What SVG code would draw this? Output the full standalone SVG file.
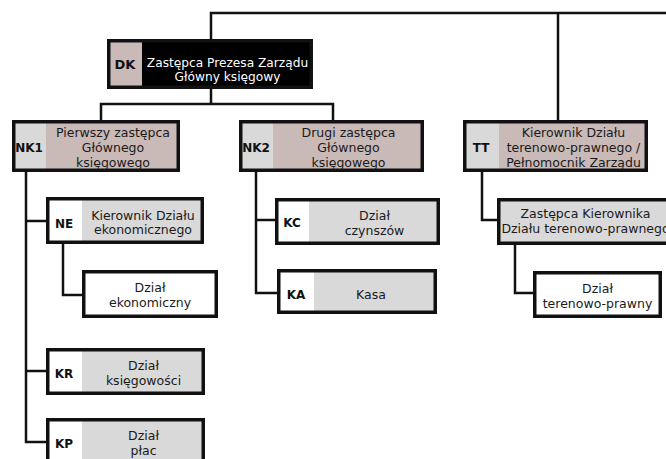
<svg xmlns="http://www.w3.org/2000/svg" width="666" height="459" viewBox="0 0 666 459">
<style>
.frame{fill:none;stroke:#111;stroke-width:3.5}
.pink{fill:#c9b9b7}
.gray{fill:#d9d9d9}
.white{fill:#fff}
.blk{fill:#000}
.t{font-family:"DejaVu Sans",Verdana,sans-serif;font-size:12.5px;fill:#1a1a1a;text-anchor:middle}
.tw{fill:#fff;font-size:12.2px}
.c{font-family:"DejaVu Sans",Verdana,sans-serif;font-size:12px;font-weight:bold;fill:#111;text-anchor:middle}
.conn path{fill:none;stroke:#111;stroke-width:2.5}
</style>
<rect width="666" height="459" fill="#fff"/>
<g class="conn">
<path d="M211,39 V13 H668"/>
<path d="M558,13 V120"/>
<path d="M211,89 V104"/>
<path d="M101,120 V104 H333 V121"/>
<path d="M26,172 V442 H46"/>
<path d="M26,221 H46"/>
<path d="M26,371 H46"/>
<path d="M63,244 V295 H82"/>
<path d="M256,172 V293 H277"/>
<path d="M256,220 H275"/>
<path d="M482,172 V220 H497"/>
<path d="M515,245 V293 H533"/>
</g>
<g id="DK">
<rect class="blk" x="107" y="39" width="206" height="50"/>
<rect class="pink" x="108.75" y="40.75" width="33.25" height="46.5"/>
<rect class="frame" x="108.75" y="40.75" width="202.5" height="46.5"/>
<text class="c" x="125" y="69" style="font-size:13px">DK</text>
<text class="t tw" x="227.5" y="67">Zastępca Prezesa Zarządu</text>
<text class="t tw" x="227.5" y="80.5">Główny księgowy</text>
</g>
<g id="NK1">
<rect class="pink" x="12" y="120" width="168" height="52"/>
<rect class="gray" x="12" y="120" width="34" height="52"/>
<rect class="frame" x="13.75" y="121.75" width="164.5" height="48.5"/>
<text class="c" x="29" y="152">NK1</text>
<text class="t" x="113" y="137">Pierwszy zastępca</text>
<text class="t" x="113" y="152">Głównego</text>
<text class="t" x="113" y="167">księgowego</text>
</g>
<g id="NK2">
<rect class="pink" x="239" y="120" width="185" height="52"/>
<rect class="gray" x="239" y="120" width="34" height="52"/>
<rect class="frame" x="240.75" y="121.75" width="181.5" height="48.5"/>
<text class="c" x="256" y="152">NK2</text>
<text class="t" x="348.5" y="137">Drugi zastępca</text>
<text class="t" x="348.5" y="152">Głównego</text>
<text class="t" x="348.5" y="167">księgowego</text>
</g>
<g id="TT">
<rect class="pink" x="463" y="120" width="185" height="52"/>
<rect class="gray" x="463" y="120" width="36" height="52"/>
<rect class="frame" x="464.75" y="121.75" width="181.5" height="48.5"/>
<text class="c" x="481" y="152">TT</text>
<text class="t" x="573.5" y="137">Kierownik Działu</text>
<text class="t" x="573.5" y="152">terenowo-prawnego /</text>
<text class="t" x="573.5" y="167">Pełnomocnik Zarządu</text>
</g>
<g id="NE">
<rect class="gray" x="46" y="197" width="158" height="47"/>
<rect class="white" x="46" y="197" width="36" height="47"/>
<rect class="frame" x="47.75" y="198.75" width="154.5" height="43.5"/>
<text class="c" x="64" y="228">NE</text>
<text class="t" x="143" y="220">Kierownik Działu</text>
<text class="t" x="143" y="234">ekonomicznego</text>
</g>
<g id="DE">
<rect class="white" x="82" y="270" width="136" height="48"/>
<rect class="frame" x="83.75" y="271.75" width="132.5" height="44.5"/>
<text class="t" x="150" y="292">Dział</text>
<text class="t" x="150" y="307">ekonomiczny</text>
</g>
<g id="KR">
<rect class="gray" x="46" y="348" width="159" height="47"/>
<rect class="white" x="46" y="348" width="36" height="47"/>
<rect class="frame" x="47.75" y="349.75" width="155.5" height="43.5"/>
<text class="c" x="64" y="378">KR</text>
<text class="t" x="143.5" y="370">Dział</text>
<text class="t" x="143.5" y="385">księgowości</text>
</g>
<g id="KP">
<rect class="gray" x="46" y="418" width="159" height="50"/>
<rect class="white" x="46" y="418" width="36" height="50"/>
<rect class="frame" x="47.75" y="419.75" width="155.5" height="46.5"/>
<text class="c" x="64" y="448">KP</text>
<text class="t" x="143.5" y="440">Dział</text>
<text class="t" x="143.5" y="455">płac</text>
</g>
<g id="KC">
<rect class="gray" x="275" y="198" width="165" height="47"/>
<rect class="white" x="275" y="198" width="34" height="47"/>
<rect class="frame" x="276.75" y="199.75" width="161.5" height="43.5"/>
<text class="c" x="292" y="227">KC</text>
<text class="t" x="374.5" y="220">Dział</text>
<text class="t" x="374.5" y="235">czynszów</text>
</g>
<g id="KA">
<rect class="gray" x="277" y="269" width="160" height="45"/>
<rect class="white" x="277" y="269" width="37" height="45"/>
<rect class="frame" x="278.75" y="270.75" width="156.5" height="41.5"/>
<text class="c" x="296" y="299">KA</text>
<text class="t" x="371" y="299">Kasa</text>
</g>
<g id="ZK">
<rect class="gray" x="497" y="198" width="180" height="47"/>
<rect class="frame" x="498.75" y="199.75" width="176.5" height="43.5"/>
<text class="t" x="585.5" y="218">Zastępca Kierownika</text>
<text class="t" x="585.5" y="233">Działu terenowo-prawnego</text>
</g>
<g id="DT">
<rect class="white" x="533" y="271" width="129" height="47"/>
<rect class="frame" x="534.75" y="272.75" width="125.5" height="43.5"/>
<text class="t" x="597.5" y="293">Dział</text>
<text class="t" x="597.5" y="308">terenowo-prawny</text>
</g>
</svg>
